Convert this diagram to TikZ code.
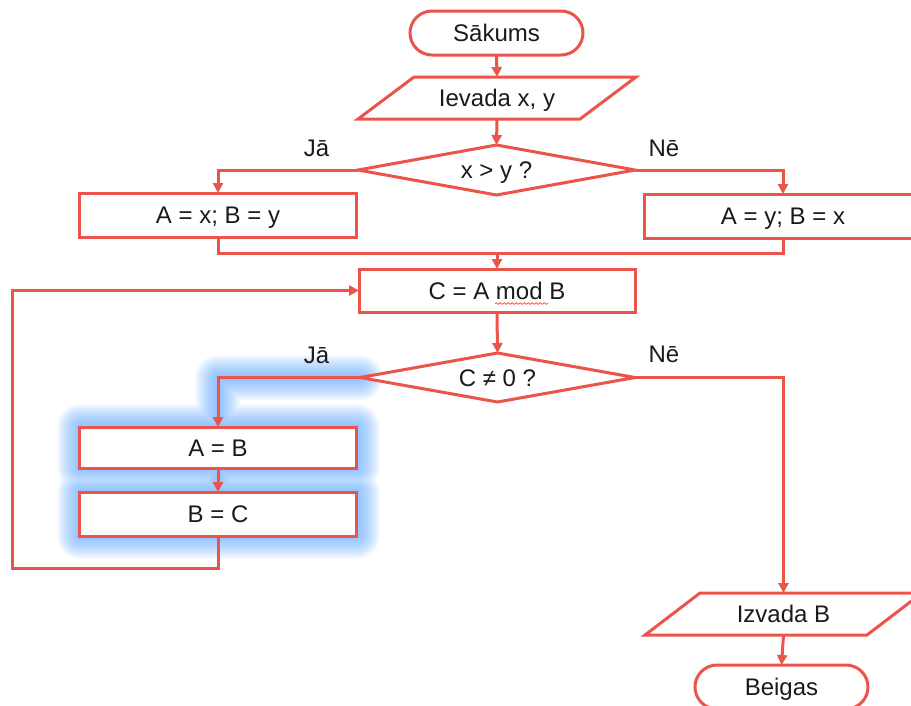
\documentclass[tikz,border=0pt]{standalone}
\usepackage{fontspec}
\setmainfont{Liberation Sans}
\usetikzlibrary{shapes.geometric,arrows.meta,calc,decorations.pathmorphing}
\definecolor{flowred}{RGB}{235,84,74}
\definecolor{glowblue}{RGB}{75,155,255}
\definecolor{ink}{RGB}{26,26,26}
\pgfdeclarelayer{glow}
\pgfsetlayers{glow,main}

\begin{document}
\begin{tikzpicture}[x=1pt,y=-1pt,
  font=\fontsize{24}{28}\selectfont, text=ink,
  txt/.style={text height=17pt, text depth=0pt, inner sep=0pt, outer sep=0pt},
  base/.style={txt, draw=flowred, line width=3pt, fill=white},
  terminal/.style={base, rectangle, rounded corners=22pt, minimum width=173pt, minimum height=44pt},
  process/.style={base, rectangle, minimum width=277pt, minimum height=44pt},
  decision/.style={base, diamond, shape aspect=5.5, minimum width=277pt, minimum height=50pt},
  io/.style={txt, rectangle, minimum width=222pt, minimum height=42pt},
  iobox/.style={draw=flowred, line width=3pt, line join=miter},
  flow/.style={draw=flowred, line width=3pt, -{Triangle[length=10pt,width=10pt]}},
  link/.style={draw=flowred, line width=3pt},
  answer/.style={txt}
]
\useasboundingbox (0,0) rectangle (911,705);

% nodes
\node[terminal] (start) at (496.5,33) {Sākums};
\node[io] (in) at (497,98) {Ievada x, y};
\draw[iobox] ($(in.north west)+(28,0)$) -- ($(in.north east)+(28,0)$)
  -- ($(in.south east)+(-28,0)$) -- ($(in.south west)+(-28,0)$) -- cycle;
\node[decision] (d1) at (496.5,170) {x > y ?};
\node[process] (ya) at (218,215) {A = x; B = y};
\node[process] (yb) at (783,216) {A = y; B = x};
\node[process, minimum width=276pt, minimum height=43pt] (cbox) at (497,290.5) {C = A mod B};
\node[decision, minimum width=275pt, minimum height=49pt] (d2) at (497.5,377.5) {C ≠ 0 ?};
\node[process, minimum height=41pt] (ab) at (218,447.5) {A = B};
\node[process] (bc) at (218,514) {B = C};
\node[io] (out) at (783.5,614) {Izvada B};
\draw[iobox] ($(out.north west)+(27.5,0)$) -- ($(out.north east)+(27.5,0)$)
  -- ($(out.south east)+(-27.5,0)$) -- ($(out.south west)+(-27.5,0)$) -- cycle;
\node[terminal] (end) at (781.5,687) {Beigas};

% branch labels
\node[answer] (j1) at (316.5,147.5) {Jā};
\node[answer] (n1) at (664,147.5) {Nē};
\node[answer] (j2) at (316.5,354.5) {Jā};
\node[answer] (n2) at (664,353.5) {Nē};

% spelling underline under "mod"
\draw[flowred, line width=0.7pt, decorate,
  decoration={snake, amplitude=0.9pt, segment length=4pt}]
  ($(cbox.center)+(-2,13)$) -- ($(cbox.center)+(51,13)$);

% connectors
\draw[flow] (start.south) -- (in.north);
\draw[flow] (in.south) -- (d1.north);
\draw[flow] (d1.west) -| (ya.north);
\draw[flow] (d1.east) -| (yb.north);
\coordinate (join) at ($(ya.south)+(0,16)$);
\draw[link] (ya.south) -- (join) -- (join -| yb.south) -- (yb.south);
\draw[flow] (join -| cbox.north) -- (cbox.north);
\draw[flow] (cbox.south) -- (d2.north);
\draw[flow] (d2.west) -| (ab.north);
\draw[flow] (ab.south) -- (bc.north);
\coordinate (loop) at (12,568);
\draw[flow] (bc.south) |- (loop) |- (cbox.west);
\draw[flow] (d2.east) -| (out.north);
\draw[flow] (out.south) -- (end.north);

% soft highlight round the "yes" branch
\begin{pgfonlayer}{glow}
\foreach \w in {2,4,...,46} {
  \draw[glowblue, opacity=0.04, line width=\w pt, line join=round, line cap=round]
    (ab.north west) rectangle (ab.south east)
    (bc.north west) rectangle (bc.south east)
    (d2.west) -| (ab.north)
    (ab.south) -- (bc.north);
}
\end{pgfonlayer}
\end{tikzpicture}
\end{document}
